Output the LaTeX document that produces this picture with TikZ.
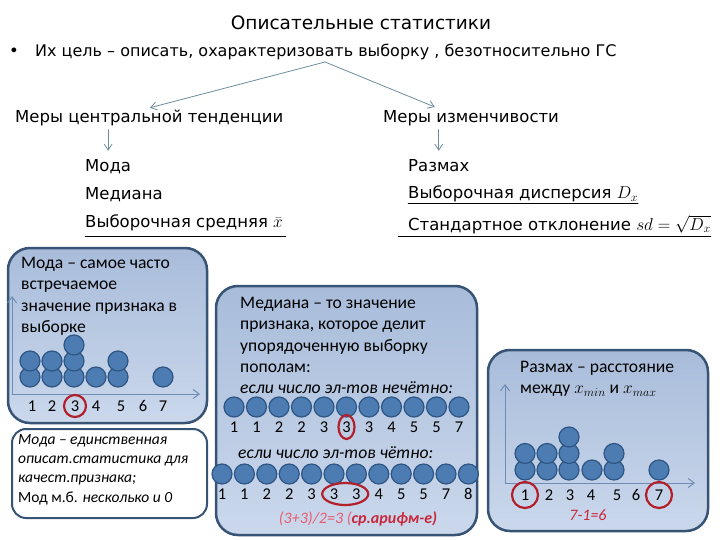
\documentclass[tikz,border=0pt]{standalone}
\usepackage{fontspec}
\setmainfont{DejaVu Sans}
\newfontfamily\boxfont{Carlito}
\usetikzlibrary{arrows.meta,calc}
\definecolor{paneltop}{RGB}{168,188,218}
\definecolor{panelbot}{RGB}{203,216,236}
\definecolor{frame}{RGB}{56,84,116}
\definecolor{dotfill}{RGB}{76,124,178}
\definecolor{dotline}{RGB}{46,86,132}
\definecolor{linkgray}{RGB}{110,140,158}
\definecolor{axisblue}{RGB}{110,140,180}
\definecolor{ringred}{RGB}{178,32,44}
\definecolor{pinkred}{RGB}{232,92,110}
\definecolor{darkred}{RGB}{200,40,60}

\tikzset{
  head/.style={inner sep=0pt, font=\fontsize{16.5}{20}\selectfont},
  boxtext/.style={inner sep=0pt, align=left, font=\boxfont\fontsize{17.6}{21.3}\selectfont},
  numtext/.style={inner sep=0pt, font=\boxfont\fontsize{16.5}{20}\selectfont},
  panel/.style={draw=frame, line width=2.5pt, rounded corners=22pt, top color=paneltop, bottom color=panelbot},
  notebox/.style={draw=frame, line width=2pt, rounded corners=14pt, fill=white},
  dot/.style={draw=dotline, line width=1.2pt, fill=dotfill},
  ring/.style={draw=ringred, line width=2.2pt},
  link/.style={draw=linkgray, line width=0.8pt, -{Straight Barb[length=6pt,width=8pt]}},
  axis/.style={draw=axisblue, line width=1pt, -{Straight Barb[length=6pt,width=9pt]}}
}

\begin{document}
\begin{tikzpicture}[line cap=round,line join=round,x=1pt,y=-1pt]
	\useasboundingbox (0,0) rectangle (720,540);
	\fill[white] (0,0) rectangle (720,540);
	% title
	\draw (361,30) node[anchor=base,inner sep=0pt,font=\fontsize{18.5}{22}\selectfont] (title) {Описательные статистики};
	\draw (9,57) node[anchor=base west,head] (bullet) {•};
	\draw (35,57) node[anchor=base west,inner sep=0pt,font=\fontsize{16}{18}\selectfont] (goal) {Их цель – описать, охарактеризовать выборку , безотносительно ГС};
	\draw (15,123) node[anchor=base west,head] (central) {Меры центральной тенденции};
	\draw (383,123) node[anchor=base west,head] (spread) {Меры изменчивости};
	\coordinate (split) at (325,62);
	\draw[link,shorten >=10pt] (split) -- ([xshift=-9pt]central.north);
	\draw[link,shorten >=10pt] (split) -- ([xshift=-27pt]spread.north);

	% lists
	\draw (85,172) node[anchor=base west,head] (moda) {Мода};
	\draw (85,200) node[anchor=base west,head] (median) {Медиана};
	\draw (85,228) node[anchor=base west,head] (mean) {Выборочная средняя $\bar{x}$};
	\draw ([yshift=-8pt]mean.base west) -- ([yshift=-8pt,xshift=3pt]mean.base east);
	\draw[link,shorten <=3pt,shorten >=9pt] (central.south -| moda.north) -- (moda.north);

	\draw (408,172) node[anchor=base west,head] (range) {Размах};
	\draw (408,199) node[anchor=base west,head] (disp) {Выборочная дисперсия $D_x$};
	\draw (408,230) node[anchor=base west,head] (sd) {Стандартное отклонение $sd=\sqrt{D_x}$};
	\draw ([yshift=-4pt]disp.base west) -- ([yshift=-4pt]disp.base east);
	\draw ([yshift=-6pt,xshift=-10pt]sd.base west) -- ([yshift=-6pt]sd.base east);
	\draw[link,shorten <=3pt,shorten >=9pt] (spread.south -| range.north) -- (range.north);

	% mode panel
	\draw[panel] (8,248) rectangle (207,423);
	\draw (21,257) node[anchor=north west,boxtext] (modadef) {Мода – самое часто\\встречаемое\\значение признака в\\выборке};
	\coordinate (o1) at (12,394);
	\draw[axis] (o1) -- (12,296);
	\draw[axis] (o1) -- (200,394);
	\foreach \x/\n in {30/2,52/2,74/3,96/1,118/2,163/1}
		\foreach \k in {1,...,\n}
			\draw[dot] (\x,393-16*\k) circle [radius=10pt];
	\foreach \x/\v [count=\i] in {32/1,52/2,75/3,96/4,121/5,143/6,163/7}
		\draw (\x,406) node[numtext] (la\i) {\v};
	\draw[ring] (la3) circle [radius=11pt];

	\draw[notebox] (12,429) rectangle (207,518);
	\draw (18,434) node[anchor=north west,inner sep=0pt,align=left,font=\boxfont\itshape\fontsize{15.5}{19.3}\selectfont] (onlyqual) {Мода – единственная\\описат.статистика для\\качест.признака;\\{\upshape Мод м.б.} несколько и 0};

	% median panel
	\draw[panel] (216,286) rectangle (477,535);
	\draw (240,297) node[anchor=north west,boxtext] (meddef) {Медиана – то значение\\признака, которое делит\\упорядоченную выборку\\пополам:\\\textit{если число эл-тов нечётно:}};
	\foreach \v [count=\i] in {1,1,2,2,3,3,3,4,5,5,7} {
		\draw[dot] (211.5+22.5*\i,407) circle [radius=10pt];
		\draw (211.5+22.5*\i,427) node[numtext] (ma\i) {\v};
	}
	\draw[ring] (ma6) ellipse [x radius=8pt,y radius=12pt];
	\draw (238,453) node[anchor=west,boxtext] (even) {\textit{если число эл-тов чётно:}};
	\foreach \v [count=\i] in {1,1,2,2,3,3,3,4,5,5,7,8} {
		\draw[dot] (199.6+22.4*\i,474) circle [radius=10pt];
		\draw (199.6+22.4*\i,494) node[numtext] (mb\i) {\v};
	}
	\draw[ring] ($(mb6)!0.5!(mb7)$) ellipse [x radius=23pt,y radius=11pt];
	\draw (358,519) node[inner sep=0pt,font=\boxfont\itshape\fontsize{16}{19}\selectfont] (avg) {\textcolor{pinkred}{(3+3)/2=3 (}\textcolor{darkred}{\bfseries ср.арифм-е)}};

	% range panel
	\draw[panel] (488,350) rectangle (708,531);
	\draw (520,361) node[anchor=north west,boxtext] (rangedef) {Размах – расстояние\\между $x_{min}$ и $x_{max}$};
	\coordinate (o2) at (505,483);
	\draw[axis] (o2) -- (505,384);
	\draw[axis] (o2) -- (695,483);
	\foreach \x/\n in {525/2,547/2,569/3,592/1,614/2,659/1}
		\foreach \k in {1,...,\n}
			\draw[dot] (\x,486.5-16.5*\k) circle [radius=10pt];
	\foreach \x/\v [count=\i] in {525/1,549/2,570/3,591/4,617/5,636/6,659/7}
		\draw (\x,495) node[numtext] (lc\i) {\v};
	\draw[ring] (lc1) circle [radius=13pt];
	\draw[ring] (lc7) circle [radius=13pt];
	\draw (588,515) node[inner sep=0pt,font=\boxfont\itshape\fontsize{16}{19}\selectfont,text=darkred] (diff) {7-1=6};
\end{tikzpicture}
\end{document}
